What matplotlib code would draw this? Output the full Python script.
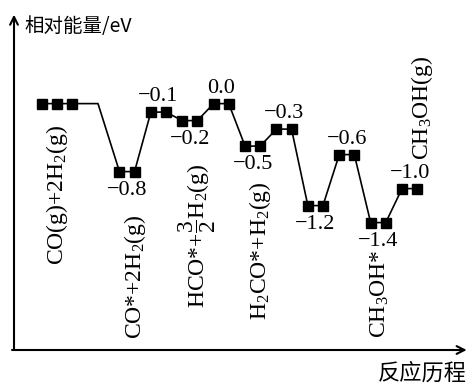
import numpy as np
import matplotlib.pyplot as plt

plt.rcParams['mathtext.fontset'] = 'custom'
plt.rcParams['mathtext.rm'] = 'Liberation Serif'
plt.rcParams['mathtext.it'] = 'Liberation Serif:italic'
plt.rcParams['mathtext.bf'] = 'Liberation Serif:bold'

# Relative energy of each intermediate state along the reaction path (eV)
energies = [0.0, -0.8, -0.1, -0.2, 0.0, -0.5, -0.3, -1.2, -0.6, -1.4, -1.0]
value_text = [None, "−0.8", "−0.1", "−0.2", "0.0", "−0.5", "−0.3",
              "−1.2", "−0.6", "−1.4", "−1.0"]
species = {
    0: "CO(g)+2H$_2$(g)",
    1: "CO*+2H$_2$(g)",
    3: r"HCO*+$\dfrac{3}{2}$H$_2$(g)",
    5: "H$_2$CO*+H$_2$(g)",
    9: "CH$_3$OH*",
    10: "CH$_3$OH(g)",
}
y_title = "相对能量/eV"
x_title = "反应历程"

# Layout along the reaction coordinate
centers = np.r_[-1.23, np.arange(1, 11)]
half = 0.24
value_side = [0, -1, 1, -1, 1, -1, 1, -1, 1, -1, 1]
species_pos = {0: (0.0, -1.075), 1: (0.26, -2.04), 3: (0.23, -1.55),
               5: (0.24, -1.73), 9: (0.06, -2.24), 10: (0.39, -0.05)}

serif = 'Liberation Serif'
cjk = ['Noto Sans CJK SC', 'DejaVu Sans']

fig = plt.figure(figsize=(4.7, 3.85), dpi=100)
ax = fig.add_axes([0, 0, 1, 1])
ax.set_xlim(-3.045, 11.924)
ax.set_ylim(-3.311, 1.219)
ax.axis('off')

# Marker positions and connecting path
mx, my, px, py = [], [], [], []
for i, (c, e) in enumerate(zip(centers, energies)):
    if i == 0:
        xs = [c - 2 * half, c, c + 2 * half]
        mx += xs; my += [e] * 3
        px += xs + [0.076]; py += [e] * 4
    else:
        xs = [c - half, c + half]
        mx += xs; my += [e] * 2
        px += xs; py += [e] * 2

ax.plot(px, py, color='black', lw=1.2, zorder=2)
ax.plot(mx, my, ls='none', marker='s', ms=7, color='black', zorder=3)

# Energy values above or below each level
for c, e, t, s in zip(centers, energies, value_text, value_side):
    if t is None:
        continue
    off = 11 if s > 0 else -13.5
    ax.annotate(t, (c, e), xytext=(0, off), textcoords='offset points',
                ha='center', va='center', fontsize=16, family=serif)

# Species names, written vertically
for i, lab in species.items():
    dx, y = species_pos[i]
    ax.text(centers[i] + dx, y, lab, rotation=90, ha='center', va='center',
            fontsize=17, family=serif)

# Axes drawn as arrows
arrow = dict(arrowstyle='->', lw=1.5, color='black', shrinkA=0, shrinkB=0,
             mutation_scale=14)
ax.annotate('', xy=(0.0298, 0.962), xytext=(0.0298, 0.0909),
            xycoords='axes fraction', arrowprops=arrow)
ax.annotate('', xy=(0.993, 0.0909), xytext=(0.0255, 0.0909),
            xycoords='axes fraction', arrowprops=arrow)

ax.text(0.053, 0.93, y_title, transform=ax.transAxes, ha='left', va='center',
        fontsize=14, family=cjk)
ax.text(0.993, 0.031, x_title, transform=ax.transAxes, ha='right', va='center',
        fontsize=16, family=cjk)

fig.savefig('out.png', dpi=100)
